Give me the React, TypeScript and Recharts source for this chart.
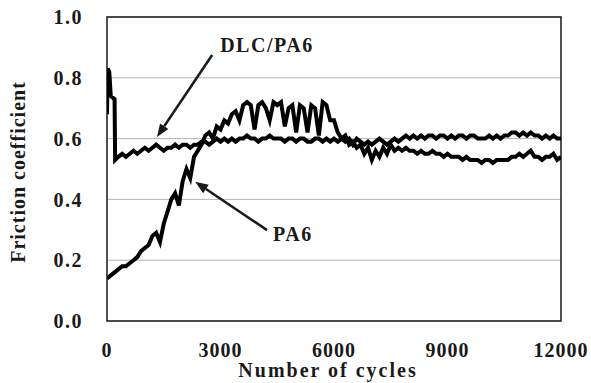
import React from 'react';
import {
  LineChart, Line, XAxis, YAxis, CartesianGrid, ReferenceLine, ReferenceArea,
} from 'recharts';

// Sampling grid of cycles (every 100 cycles)
const gridCycles: number[] = Array.from({ length: 121 }, (_, i) => i * 100);

// PA6 friction coefficient, one value per grid cycle (0..12000)
const pa6Values: number[] = [
  0.14, 0.15, 0.16, 0.17, 0.18, 0.18, 0.19, 0.20, 0.21, 0.23,
  0.24, 0.25, 0.28, 0.29, 0.26, 0.32, 0.36, 0.40, 0.42, 0.38,
  0.46, 0.50, 0.47, 0.54, 0.56, 0.58, 0.61,
  0.62, 0.60, 0.64, 0.63, 0.66, 0.65, 0.68, 0.69, 0.66, 0.71,
  0.72, 0.71, 0.63, 0.71, 0.72, 0.70, 0.66, 0.72, 0.71, 0.72,
  0.64, 0.70, 0.71, 0.62, 0.71, 0.70, 0.62, 0.71, 0.70, 0.61,
  0.72, 0.71, 0.66,
  0.66, 0.62, 0.60, 0.61, 0.58, 0.59, 0.57, 0.58, 0.55, 0.57,
  0.53, 0.56, 0.54, 0.57, 0.55, 0.58, 0.56, 0.57, 0.56, 0.57,
  0.56, 0.56, 0.55, 0.56, 0.55, 0.55, 0.56, 0.55, 0.55, 0.54,
  0.55, 0.54, 0.54, 0.54, 0.53, 0.54, 0.53, 0.53, 0.53, 0.52,
  0.53, 0.53, 0.52, 0.53, 0.53, 0.53, 0.53, 0.54, 0.54, 0.55,
  0.54, 0.55, 0.56, 0.54, 0.54, 0.53, 0.54, 0.54, 0.55, 0.53,
  0.54,
];

// DLC/PA6: initial spike (fine cycles) then grid from 300 cycles
const dlcSpikeCycles: number[] = [0, 20, 60, 100, 200, 215];
const dlcSpikeValues: number[] = [0.68, 0.83, 0.82, 0.74, 0.73, 0.53];
const dlcValues: number[] = [
  // 300..2500
  0.54, 0.55, 0.54, 0.55, 0.56, 0.55, 0.56, 0.57, 0.56, 0.57,
  0.58, 0.57, 0.56, 0.57, 0.57, 0.58, 0.57, 0.58, 0.58, 0.57,
  0.58, 0.58, 0.59,
  // 2600..12000
  0.59, 0.58, 0.59, 0.60, 0.59, 0.60, 0.59, 0.60, 0.59, 0.60,
  0.60, 0.61, 0.60, 0.60, 0.59, 0.60, 0.60, 0.61, 0.60, 0.60,
  0.60, 0.59, 0.60, 0.60, 0.59, 0.60, 0.60, 0.59, 0.59, 0.60,
  0.60, 0.59, 0.60, 0.59, 0.60, 0.59, 0.60, 0.59, 0.60, 0.58,
  0.60, 0.59, 0.58, 0.59, 0.58, 0.59, 0.60, 0.59, 0.58, 0.59,
  0.60, 0.59, 0.60, 0.61, 0.60, 0.61, 0.60, 0.61, 0.60, 0.61,
  0.61, 0.60, 0.61, 0.61, 0.60, 0.61, 0.60, 0.61, 0.61, 0.60,
  0.61, 0.61, 0.60, 0.60, 0.60, 0.61, 0.60, 0.61, 0.60, 0.61,
  0.61, 0.62, 0.62, 0.61, 0.62, 0.61, 0.62, 0.61, 0.61, 0.60,
  0.61, 0.60, 0.61, 0.60, 0.60,
];

const xTicks: number[] = [0, 3000, 6000, 9000, 12000];
const yTicks: number[] = [0, 0.2, 0.4, 0.6, 0.8, 1.0];

// Annotation arrows: [start, tip] in data coordinates
const dlcArrow = [{ x: 2780, y: 0.875 }, { x: 1320, y: 0.605 }];
const pa6Arrow = [{ x: 4230, y: 0.299 }, { x: 2330, y: 0.458 }];

const pa6Data = gridCycles.map((c, i) => ({ c, v: pa6Values[i] }));
const dlcCycles = [...dlcSpikeCycles, ...gridCycles.filter((c) => c >= 300)];
const dlcAll = [...dlcSpikeValues, ...dlcValues];
const dlcData = dlcCycles.map((c, i) => ({ c, v: dlcAll[i] })).filter((d) => d.v !== undefined);

const FONT = '"Liberation Serif", "Times New Roman", serif';
const INK = '#1a1a1a';

const makeArrow = (label: string, dx: number, dy: number) => (props: any) => {
  const { x1, y1, x2, y2 } = props;
  const ang = Math.atan2(y2 - y1, x2 - x1);
  const len = 13;
  const half = 5;
  const bx = x2 - len * Math.cos(ang);
  const by = y2 - len * Math.sin(ang);
  const px = -Math.sin(ang) * half;
  const py = Math.cos(ang) * half;
  return (
    <g>
      <line x1={x1} y1={y1} x2={bx} y2={by} stroke={INK} strokeWidth={2.5} />
      <polygon
        points={`${x2},${y2} ${bx + px},${by + py} ${bx - px},${by - py}`}
        fill={INK}
      />
      <text
        x={x1 + dx}
        y={y1 + dy}
        fontFamily={FONT}
        fontWeight="bold"
        fontSize={20}
        letterSpacing={1.5}
        fill={INK}
      >
        {label}
      </text>
    </g>
  );
};

export default function App() {
  return (
    <div style={{ position: 'absolute', left: 0, top: 0, background: '#fff' }}>
      <LineChart
        width={591}
        height={383}
        margin={{ top: 17, right: 30, bottom: 0, left: 0 }}
      >
        <CartesianGrid vertical={false} stroke="#b4b4b4" strokeWidth={1} />
        <XAxis
          dataKey="c"
          type="number"
          domain={[0, 12000]}
          ticks={xTicks}
          height={62}
          tickSize={0}
          tickMargin={22}
          axisLine={false}
          tickLine={false}
          allowDataOverflow
          tick={{ fontFamily: FONT, fontWeight: 'bold', fontSize: 20, fill: INK, letterSpacing: 1 }}
          label={{
            value: 'Number of cycles',
            content: (p: any) => {
              const vb = p.viewBox;
              return (
                <text
                  x={vb.x + vb.width / 2 - 6}
                  y={vb.y + vb.height - 6}
                  textAnchor="middle"
                  fontFamily={FONT}
                  fontWeight="bold"
                  fontSize={20}
                  letterSpacing={2}
                  fill={INK}
                >
                  Number of cycles
                </text>
              );
            },
          }}
        />
        <YAxis
          type="number"
          domain={[0, 1]}
          ticks={yTicks}
          width={107}
          tickSize={0}
          tickMargin={24}
          axisLine={false}
          tickLine={false}
          tickFormatter={(v: number) => v.toFixed(1)}
          tick={{ fontFamily: FONT, fontWeight: 'bold', fontSize: 20, fill: INK, letterSpacing: 1.5 }}
          label={{
            value: 'Friction coefficient',
            content: (p: any) => {
              const vb = p.viewBox;
              const cx = vb.x + 18;
              const cy = vb.y + vb.height / 2 + 3;
              return (
                <text
                  x={cx}
                  y={cy}
                  transform={`rotate(-90 ${cx} ${cy})`}
                  textAnchor="middle"
                  dominantBaseline="central"
                  fontFamily={FONT}
                  fontWeight="bold"
                  fontSize={20}
                  letterSpacing={1}
                  fill={INK}
                >
                  Friction coefficient
                </text>
              );
            },
          }}
        />
        <Line
          data={dlcData}
          dataKey="v"
          type="linear"
          stroke="#000"
          strokeWidth={4}
          dot={false}
          isAnimationActive={false}
        />
        <Line
          data={pa6Data}
          dataKey="v"
          type="linear"
          stroke="#000"
          strokeWidth={4}
          dot={false}
          isAnimationActive={false}
        />
        <ReferenceArea
          x1={0}
          x2={12000}
          y1={0}
          y2={1}
          fill="none"
          fillOpacity={0}
          stroke={INK}
          strokeWidth={1.5}
          ifOverflow="visible"
        />
        <ReferenceLine segment={dlcArrow} ifOverflow="visible" shape={makeArrow('DLC/PA6', 8, -3)} />
        <ReferenceLine segment={pa6Arrow} ifOverflow="visible" shape={makeArrow('PA6', 6, 11)} />
      </LineChart>
    </div>
  );
}
